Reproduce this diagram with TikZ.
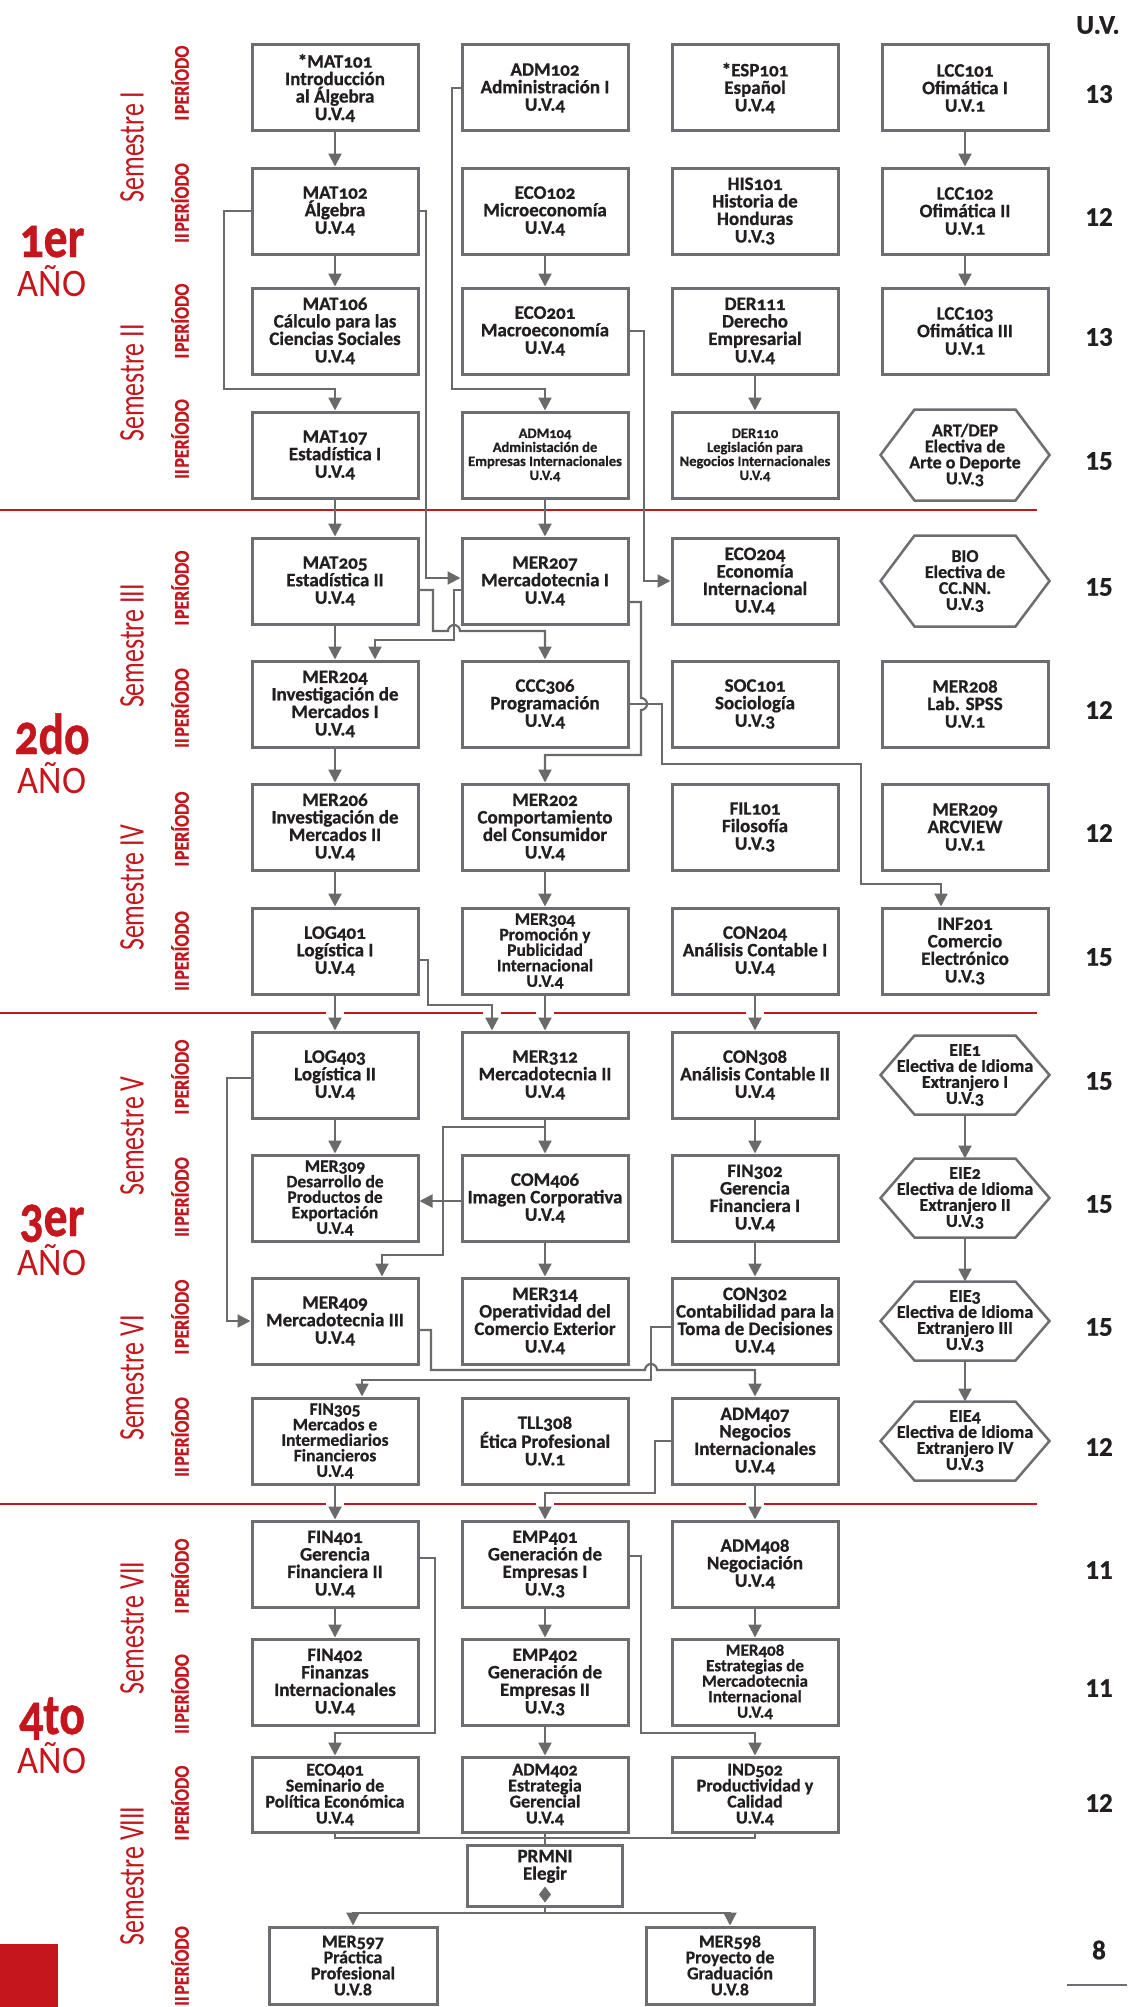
\documentclass[tikz,border=0pt]{standalone}
\usepackage{fontspec}
\usepackage{graphicx}
\setmainfont{Carlito}[Numbers=OldStyle, BoldFeatures={FakeBold=0.8}]
\newfontfamily\lnfont{Carlito}[BoldFeatures={FakeBold=0.8}]
\usetikzlibrary{arrows.meta,calc}
\definecolor{boxgray}{HTML}{6D6E71}
\definecolor{arrgray}{HTML}{6A6A6A}
\definecolor{txt}{HTML}{231F20}
\definecolor{ured}{HTML}{C4161C}
\newcommand\hexdraw[1]{\draw[hexline] (#1.west) -- ($(#1.north west)+(34,0)$) -- ($(#1.north east)+(-34,0)$) -- (#1.east) -- ($(#1.south east)+(-34,0)$) -- ($(#1.south west)+(34,0)$) -- cycle;}
\newcommand\perlab[1]{\scalebox{0.85}[1]{#1\kern2pt PERÍODO}}
\newcommand\semlab[1]{\scalebox{0.72}[1]{Semestre #1}}
\newcommand\yearlab[1]{{\fontsize{58}{39}\selectfont\bfseries\scalebox{0.82}[1]{#1}}\\\scalebox{0.93}[1]{AÑO}}
\tikzset{
 box/.style={draw=boxgray, line width=3pt, fill=white, minimum width=166pt, minimum height=86pt, inner sep=0pt, align=center, text=txt, font={\fontsize{19}{17.5}\selectfont\bfseries}},
 five/.style={font={\fontsize{17.5}{15.5}\selectfont\bfseries}},
 small/.style={font={\fontsize{14.5}{14}\selectfont\bfseries}},
 rowfif/.style={minimum height=75pt, font={\fontsize{18}{16}\selectfont\bfseries}},
 hexnode/.style={minimum width=166pt, minimum height=76pt, inner sep=0pt, outer sep=1.5pt, align=center, text=txt, font={\fontsize{18}{16}\selectfont\bfseries}},
 hexline/.style={draw=boxgray, line width=2.5pt},
 conn/.style={draw=arrgray, line width=2.2pt},
 arr/.style={conn, -{Triangle[width=13pt,length=13pt]}},
 redline/.style={draw=ured, line width=2.2pt},
 sem/.style={rotate=90, text=ured, font={\fontsize{36}{36}\selectfont}},
 per/.style={rotate=90, text=ured, font={\fontsize{21}{21}\selectfont\bfseries}},
 uv/.style={text=txt, font={\lnfont\bfseries\fontsize{27}{27}\selectfont}},
 yearbox/.style={anchor=base, align=center, text=ured, inner sep=0pt, font={\fontsize{39}{39}\selectfont\lineskiplimit=-100pt}},
}
\begin{document}
\begin{tikzpicture}[x=1pt,y=-1pt]
\useasboundingbox (0,0) rectangle (1127,2007);
\fill[white] (0,0) rectangle (1127,2007);

% red separators
\draw[redline] (0,510) -- (1037,510);
\draw[redline] (0,1013) -- (1037,1013);
\draw[redline] (0,1504) -- (1037,1504);
\foreach \gx in {335,492,545,755} {\fill[white] (\gx-9,1009) rectangle (\gx+9,1017);}
\foreach \gx in {335,545,755} {\fill[white] (\gx-9,1500) rectangle (\gx+9,1508);}
\fill[ured] (0,1944) rectangle (58,2007);
\draw[boxgray, line width=1.5pt] (1067,1985) -- (1127,1985);

% year labels
\node[yearbox] (y1) at (52,296) {\yearlab{1er}};
\node[yearbox] (y2) at (52,793) {\yearlab{2do}};
\node[yearbox] (y3) at (52,1275) {\yearlab{3er}};
\node[yearbox] (y4) at (52,1773) {\yearlab{4to}};

% semester labels
\node[sem] (s1) at (132,147) {\semlab{I}};
\node[sem] (s2) at (132,383) {\semlab{II}};
\node[sem] (s3) at (132,646) {\semlab{III}};
\node[sem] (s4) at (132,888) {\semlab{IV}};
\node[sem] (s5) at (132,1136) {\semlab{V}};
\node[sem] (s6) at (132,1378) {\semlab{VI}};
\node[sem] (s7) at (132,1628) {\semlab{VII}};
\node[sem] (s8) at (132,1876) {\semlab{VIII}};

% period labels
\node[per] (p1) at (180,83) {\perlab{I}};
\node[per] (p2) at (180,203) {\perlab{II}};
\node[per] (p3) at (180,321) {\perlab{I}};
\node[per] (p4) at (180,439) {\perlab{II}};
\node[per] (p5) at (180,588) {\perlab{I}};
\node[per] (p6) at (180,708) {\perlab{II}};
\node[per] (p7) at (180,829) {\perlab{I}};
\node[per] (p8) at (180,951) {\perlab{II}};
\node[per] (p9) at (180,1077) {\perlab{I}};
\node[per] (p10) at (180,1197) {\perlab{II}};
\node[per] (p11) at (180,1317) {\perlab{I}};
\node[per] (p12) at (180,1437) {\perlab{II}};
\node[per] (p13) at (180,1576) {\perlab{I}};
\node[per] (p14) at (180,1694) {\perlab{II}};
\node[per] (p15) at (180,1803) {\perlab{I}};
\node[per] (p16) at (180,1966) {\perlab{II}};

% U.V. column
\node[uv] (uvh) at (1098,25) {U.V.};
\node[uv] (u1) at (1099,94) {13};
\node[uv] (u2) at (1099,217) {12};
\node[uv] (u3) at (1099,337) {13};
\node[uv] (u4) at (1099,461) {15};
\node[uv] (u5) at (1099,587) {15};
\node[uv] (u6) at (1099,710) {12};
\node[uv] (u7) at (1099,833) {12};
\node[uv] (u8) at (1099,957) {15};
\node[uv] (u9) at (1099,1081) {15};
\node[uv] (u10) at (1099,1204) {15};
\node[uv] (u11) at (1099,1327) {15};
\node[uv] (u12) at (1099,1447) {12};
\node[uv] (u13) at (1099,1570) {11};
\node[uv] (u14) at (1099,1688) {11};
\node[uv] (u15) at (1099,1803) {12};
\node[uv] (u16) at (1099,1950) {8};

% ---- Year 1
\node[box] (mat101) at (335,88) {*MAT101\\Introducción\\al Álgebra\\U.V.4};
\node[box] (adm102) at (545,88) {ADM102\\Administración I\\U.V.4};
\node[box] (esp101) at (755,88) {*ESP101\\Español\\U.V.4};
\node[box] (lcc101) at (965,88) {LCC101\\Ofimática I\\U.V.1};

\node[box] (mat102) at (335,211) {MAT102\\Álgebra\\U.V.4};
\node[box] (eco102) at (545,211) {ECO102\\Microeconomía\\U.V.4};
\node[box] (his101) at (755,211) {HIS101\\Historia de\\Honduras\\U.V.3};
\node[box] (lcc102) at (965,211) {LCC102\\Ofimática II\\U.V.1};

\node[box] (mat106) at (335,331) {MAT106\\Cálculo para las\\Ciencias Sociales\\U.V.4};
\node[box] (eco201) at (545,331) {ECO201\\Macroeconomía\\U.V.4};
\node[box] (der111) at (755,331) {DER111\\Derecho\\Empresarial\\U.V.4};
\node[box] (lcc103) at (965,331) {LCC103\\Ofimática III\\U.V.1};

\node[box] (mat107) at (335,455) {MAT107\\Estadística I\\U.V.4};
\node[box,small] (adm104) at (545,455) {ADM104\\Administación de\\Empresas Internacionales\\U.V.4};
\node[box,small] (der110) at (755,455) {DER110\\Legislación para\\Negocios Internacionales\\U.V.4};
\node[hexnode,minimum height=88pt] (artdep) at (965,455) {ART/DEP\\Electiva de\\Arte o Deporte\\U.V.3};
\hexdraw{artdep}

% ---- Year 2
\node[box] (mat205) at (335,581) {MAT205\\Estadística II\\U.V.4};
\node[box] (mer207) at (545,581) {MER207\\Mercadotecnia I\\U.V.4};
\node[box] (eco204) at (755,581) {ECO204\\Economía\\Internacional\\U.V.4};
\node[hexnode,minimum height=88pt] (bio) at (965,581) {BIO\\Electiva de\\CC.NN.\\U.V.3};
\hexdraw{bio}

\node[box] (mer204) at (335,704) {MER204\\Investigación de\\Mercados I\\U.V.4};
\node[box] (ccc306) at (545,704) {CCC306\\Programación\\U.V.4};
\node[box] (soc101) at (755,704) {SOC101\\Sociología\\U.V.3};
\node[box] (mer208) at (965,704) {MER208\\Lab. SPSS\\U.V.1};

\node[box] (mer206) at (335,827) {MER206\\Investigación de\\Mercados II\\U.V.4};
\node[box] (mer202) at (545,827) {MER202\\Comportamiento\\del Consumidor\\U.V.4};
\node[box] (fil101) at (755,827) {FIL101\\Filosofía\\U.V.3};
\node[box] (mer209) at (965,827) {MER209\\ARCVIEW\\U.V.1};

\node[box] (log401) at (335,951) {LOG401\\Logística I\\U.V.4};
\node[box,five] (mer304) at (545,951) {MER304\\Promoción y\\Publicidad\\Internacional\\U.V.4};
\node[box] (con204) at (755,951) {CON204\\Análisis Contable I\\U.V.4};
\node[box] (inf201) at (965,951) {INF201\\Comercio\\Electrónico\\U.V.3};

% ---- Year 3
\node[box] (log403) at (335,1075) {LOG403\\Logística II\\U.V.4};
\node[box] (mer312) at (545,1075) {MER312\\Mercadotecnia II\\U.V.4};
\node[box] (con308) at (755,1075) {CON308\\Análisis Contable II\\U.V.4};
\node[hexnode] (eie1) at (965,1075) {EIE1\\Electiva de Idioma\\Extranjero I\\U.V.3};
\hexdraw{eie1}

\node[box,five] (mer309) at (335,1198) {MER309\\Desarrollo de\\Productos de\\Exportación\\U.V.4};
\node[box] (com406) at (545,1198) {COM406\\Imagen Corporativa\\U.V.4};
\node[box] (fin302) at (755,1198) {FIN302\\Gerencia\\Financiera I\\U.V.4};
\node[hexnode] (eie2) at (965,1198) {EIE2\\Electiva de Idioma\\Extranjero II\\U.V.3};
\hexdraw{eie2}

\node[box] (mer409) at (335,1321) {MER409\\Mercadotecnia III\\U.V.4};
\node[box] (mer314) at (545,1321) {MER314\\Operatividad del\\Comercio Exterior\\U.V.4};
\node[box] (con302) at (755,1321) {CON302\\Contabilidad para la\\Toma de Decisiones\\U.V.4};
\node[hexnode] (eie3) at (965,1321) {EIE3\\Electiva de Idioma\\Extranjero III\\U.V.3};
\hexdraw{eie3}

\node[box,five] (fin305) at (335,1441) {FIN305\\Mercados e\\Intermediarios\\Financieros\\U.V.4};
\node[box] (tll308) at (545,1441) {TLL308\\Ética Profesional\\U.V.1};
\node[box] (adm407) at (755,1441) {ADM407\\Negocios\\Internacionales\\U.V.4};
\node[hexnode] (eie4) at (965,1441) {EIE4\\Electiva de Idioma\\Extranjero IV\\U.V.3};
\hexdraw{eie4}

% ---- Year 4
\node[box] (fin401) at (335,1564) {FIN401\\Gerencia\\Financiera II\\U.V.4};
\node[box] (emp401) at (545,1564) {EMP401\\Generación de\\Empresas I\\U.V.3};
\node[box] (adm408) at (755,1564) {ADM408\\Negociación\\U.V.4};

\node[box] (fin402) at (335,1682) {FIN402\\Finanzas\\Internacionales\\U.V.4};
\node[box] (emp402) at (545,1682) {EMP402\\Generación de\\Empresas II\\U.V.3};
\node[box,font={\fontsize{17}{15.5}\selectfont\bfseries}] (mer408) at (755,1682) {MER408\\Estrategias de\\Mercadotecnia\\Internacional\\U.V.4};

\node[box,rowfif] (eco401) at (335,1794.5) {ECO401\\Seminario de\\Política Económica\\U.V.4};
\node[box,rowfif] (adm402) at (545,1794.5) {ADM402\\Estrategia\\Gerencial\\U.V.4};
\node[box,rowfif] (ind502) at (755,1794.5) {IND502\\Productividad y\\Calidad\\U.V.4};

\node[box,minimum width=155pt,minimum height=61pt] (prmni) at (545,1875.5) {PRMNI\\Elegir\\[4pt]\mbox{}};
\node[box,minimum width=168pt,minimum height=77pt,font={\fontsize{18}{16}\selectfont\bfseries}] (mer597) at (353,1965.5) {MER597\\Práctica\\Profesional\\U.V.8};
\node[box,minimum width=168pt,minimum height=77pt,font={\fontsize{18}{16}\selectfont\bfseries}] (mer598) at (730,1965.5) {MER598\\Proyecto de\\Graduación\\U.V.8};

% ---- connectors Year 1
\draw[arr] (mat101.south) -- (mat102.north);
\draw[arr] (mat102.south) -- (mat106.north);
\draw[arr] (mat102.west) -- (224,211) -- (224,389) -- (335,389) -- (mat107.north);
\draw[arr] (mat102.east) -- (426,211) -- (426,578) -- ($(mer207.west)+(0,-3)$);
\draw[arr] (adm102.west) -- (452,88) -- (452,389) -- (545,389) -- (adm104.north);
\draw[arr] (eco102.south) -- (eco201.north);
\draw[arr] (eco201.east) -- (644,331) -- (644,581) -- (eco204.west);
\draw[arr] (adm104.south) -- (mer207.north);
\draw[arr] (mat107.south) -- (mat205.north);
\draw[arr] (der111.south) -- (der110.north);
\draw[arr] (lcc101.south) -- (lcc102.north);
\draw[arr] (lcc102.south) -- (lcc103.north);

% ---- connectors Year 2
\draw[arr] (mat205.south) -- (mer204.north);
\draw[arr] ($(mat205.east)+(0,9)$) -- (433,590) -- (433,631) -- (448,631) arc[start angle=180,end angle=360,radius=6] -- (545,631) -- (ccc306.north);
\draw[arr] ($(mer207.west)+(0,9)$) -- (454,590) -- (454,640) -- (375,640) -- ($(mer204.north)+(40,0)$);
\draw[arr] ($(mer207.east)+(0,21)$) -- (641,602) -- (641,698) arc[start angle=270,end angle=450,radius=6] -- (641,755) -- (545,755) -- (mer202.north);
\draw[arr] (ccc306.east) -- (662,704) -- (662,764) -- (861,764) -- (861,884) -- (941,884) -- ($(inf201.north)+(-24,0)$);
\draw[arr] (mer204.south) -- (mer206.north);
\draw[arr] (mer206.south) -- (log401.north);
\draw[arr] (mer202.south) -- (mer304.north);
\draw[arr] (log401.south) -- (log403.north);
\draw[arr] ($(log401.east)+(0,9)$) -- (428,960) -- (428,1005) -- (492,1005) -- ($(mer312.north)+(-53,0)$);
\draw[arr] (mer304.south) -- (mer312.north);
\draw[arr] (con204.south) -- (con308.north);

% ---- connectors Year 3
\draw[arr] ($(log403.west)+(0,3)$) -- (227,1078) -- (227,1321) -- (mer409.west);
\draw[arr] (log403.south) -- (mer309.north);
\draw[arr] (mer312.south) -- (com406.north);
\draw[arr] (mer312.south) -- (545,1127) -- (443,1127) -- (443,1255) -- (382,1255) -- ($(mer409.north)+(47,0)$);
\draw[arr] ($(com406.west)+(0,3)$) -- ($(mer309.east)+(0,3)$);
\draw[arr] (com406.south) -- (mer314.north);
\draw[arr] (con308.south) -- (fin302.north);
\draw[arr] (fin302.south) -- (con302.north);
\draw[arr] (eie1.south) -- (eie2.north);
\draw[arr] (eie2.south) -- (eie3.north);
\draw[arr] (eie3.south) -- (eie4.north);
\draw[arr] ($(mer409.east)+(0,9)$) -- (431,1330) -- (431,1370) -- (645,1370) arc[start angle=180,end angle=360,radius=6] -- (755,1370) -- (adm407.north);
\draw[arr] ($(con302.west)+(0,6)$) -- (651,1327) -- (651,1380) -- (362,1380) -- ($(fin305.north)+(27,0)$);
\draw[arr] (fin305.south) -- (fin401.north);
\draw[arr] (adm407.west) -- (655,1441) -- (655,1493) -- (545,1493) -- (emp401.north);
\draw[arr] (adm407.south) -- (adm408.north);

% ---- connectors Year 4
\draw[arr] (fin401.south) -- (fin402.north);
\draw[arr] ($(fin401.east)+(0,-6)$) -- (435,1558) -- (435,1733) -- (335,1733) -- (eco401.north);
\draw[arr] (emp401.south) -- (emp402.north);
\draw[arr] (emp402.south) -- (adm402.north);
\draw[arr] ($(emp401.east)+(0,-8)$) -- (641,1556) -- (641,1733) -- (755,1733) -- (ind502.north);
\draw[arr] (adm408.south) -- (mer408.north);
\draw[conn] (eco401.south) -- (335,1838) -- (755,1838) -- (ind502.south);
\draw[conn] (adm402.south) -- (prmni.north);
\fill[arrgray] ($(prmni.south)+(0,-21)$) -- ++(6,8) -- ++(-6,8) -- ++(-6,-8) -- cycle;
\draw[arr] (prmni.south) -- (545,1913) -- (353,1913) -- (mer597.north);
\draw[arr] (prmni.south) -- (545,1913) -- (730,1913) -- (mer598.north);
\end{tikzpicture}
\end{document}
